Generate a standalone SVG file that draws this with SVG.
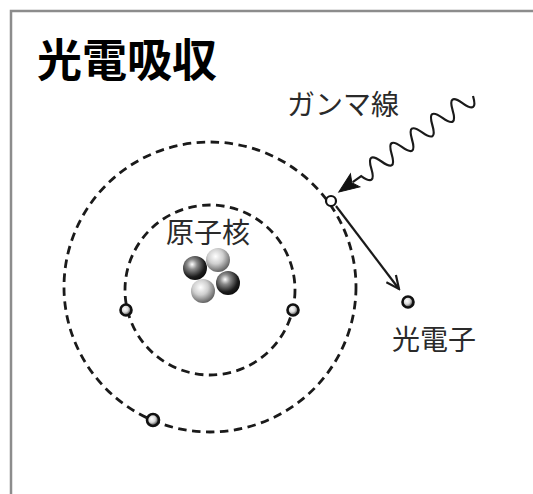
<svg xmlns="http://www.w3.org/2000/svg" width="533" height="494" viewBox="0 0 533 494">
  <style>
    .frame { fill: none; stroke: #8c8c8c; stroke-width: 2.5; }
    .orbit { fill: none; stroke: #1a1a1a; stroke-width: 2.8; stroke-dasharray: 8.5 5.5; }
    .line { fill: none; stroke: #1a1a1a; stroke-width: 2.2; }
    .label { font-family: "Noto Sans CJK JP", "Noto Sans", sans-serif; font-size: 28px; fill: #2a2a2a; }
    .title { font-family: "Noto Sans CJK JP", "Noto Sans", sans-serif; font-size: 45px; font-weight: 700; fill: #000; }
    .electron { stroke: #111; stroke-width: 2.6; }
  </style>
  <defs>
    <radialGradient id="darkBall" cx="0.38" cy="0.35" r="0.7">
      <stop offset="0" stop-color="#ffffff"/>
      <stop offset="0.3" stop-color="#8a8a8a"/>
      <stop offset="0.75" stop-color="#1c1c1c"/>
      <stop offset="1" stop-color="#0a0a0a"/>
    </radialGradient>
    <radialGradient id="lightBall" cx="0.4" cy="0.35" r="0.7">
      <stop offset="0" stop-color="#ffffff"/>
      <stop offset="0.45" stop-color="#cfcfcf"/>
      <stop offset="1" stop-color="#555"/>
    </radialGradient>
    <radialGradient id="eBall" cx="0.4" cy="0.4" r="0.6">
      <stop offset="0" stop-color="#ffffff"/>
      <stop offset="0.5" stop-color="#d8d8d8"/>
      <stop offset="1" stop-color="#333"/>
    </radialGradient>
    <marker id="openArrow" markerWidth="16" markerHeight="14" refX="14" refY="7" orient="auto" markerUnits="userSpaceOnUse">
      <path d="M1,1 L14,7 L1,13" fill="none" stroke="#1a1a1a" stroke-width="2.2"/>
    </marker>
  </defs>

  <rect width="533" height="494" fill="#fff"/>

  <!-- frame: top and left edges -->
  <path class="frame" d="M11,494 L11,11 L533,11"/>

  <text class="title" x="37" y="77">光電吸収</text>

  <!-- orbits -->
  <g id="orbits">
    <ellipse id="outer-orbit" class="orbit" cx="210" cy="287" rx="146" ry="145"/>
    <circle id="inner-orbit" class="orbit" cx="210" cy="290" r="85"/>
  </g>

  <!-- connectors -->
  <g id="connectors">
    <g id="gamma-ray" transform="translate(473,96) rotate(144.4)">
      <path class="line" d="M0,0 q6.25,-18 12.5,0 t12.5,0 t12.5,0 t12.5,0 t12.5,0 t12.5,0 t12.5,0 t12.5,0 t12.5,0 t12.5,0 t12.5,0 L148,0"/>
      <path d="M165,0 L145,-8 L149,0 L145,8 Z" fill="#111" stroke="#111" stroke-width="1"/>
    </g>
    <line id="photoelectron-path" class="line" x1="336" y1="206" x2="399" y2="289" marker-end="url(#openArrow)"/>
  </g>

  <!-- nucleus -->
  <g id="nucleus">
    <text class="label" x="166" y="243">原子核</text>
    <circle cx="218" cy="260" r="12" fill="url(#lightBall)"/>
    <circle cx="195" cy="268" r="12" fill="url(#darkBall)"/>
    <circle cx="203" cy="291" r="12" fill="url(#lightBall)"/>
    <circle cx="228" cy="283" r="12" fill="url(#darkBall)"/>
  </g>

  <!-- electrons -->
  <g id="electrons">
    <circle id="e-hit" cx="331" cy="201" r="5" fill="#fff" stroke="#111" stroke-width="2.2"/>
    <circle id="e-inner-left" class="electron" cx="126" cy="310" r="5.5" fill="url(#eBall)"/>
    <circle id="e-inner-right" class="electron" cx="293" cy="310" r="5.5" fill="url(#eBall)"/>
    <circle id="e-outer-bottom" class="electron" cx="153" cy="420" r="6" fill="url(#eBall)"/>
    <circle id="e-photo" class="electron" cx="408" cy="302" r="5.5" fill="url(#eBall)"/>
  </g>

  <g id="labels">
    <text class="label" x="287" y="115">ガンマ線</text>
    <text class="label" x="392" y="350">光電子</text>
  </g>
</svg>
